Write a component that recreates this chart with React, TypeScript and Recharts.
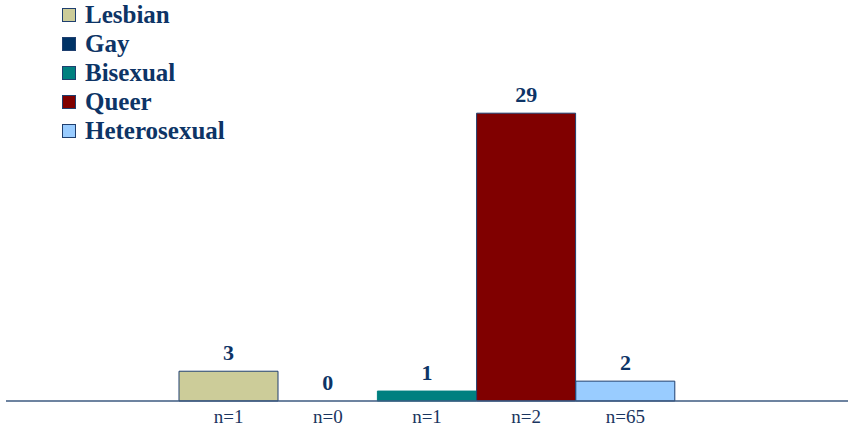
import React from "react";
import { ComposedChart, Bar, Scatter, XAxis, YAxis, Cell } from "recharts";

const groups = ["Lesbian", "Gay", "Bisexual", "Queer", "Heterosexual"];
const counts = [3, 0, 1, 29, 2];
const sampleLabels = ["n=1", "n=0", "n=1", "n=2", "n=65"];
const fills = ["#CCCC99", "#003366", "#008080", "#800000", "#99CCFF"];

const data = groups.map((g, i) => ({ group: g, n: sampleLabels[i], value: counts[i] }));

const NAVY = "#0d3466";
const SERIF = "Liberation Serif";

// value printed above each bar; drawn as a scatter so the zero bar gets one too
function ValueLabel(props: any) {
  const { cx, cy, payload } = props;
  return (
    <text x={cx} y={cy - 11} textAnchor="middle" fill={NAVY} fontFamily={SERIF} fontWeight="bold" fontSize={22}>
      {payload.value}
    </text>
  );
}

function SampleTick(props: any) {
  const { x, y, payload } = props;
  return (
    <text x={x} y={y + 14} textAnchor="middle" fill="#1a3560" fontFamily={SERIF} fontSize={19}>
      {payload.value}
    </text>
  );
}

function LegendBox() {
  return (
    <div style={{ position: "absolute", left: 62, top: 0, fontFamily: SERIF }}>
      {groups.map((g, i) => (
        <div key={g} style={{ display: "flex", alignItems: "center", height: 29.2 }}>
          <span
            style={{
              display: "inline-block",
              width: 12,
              height: 12,
              background: fills[i],
              border: "1px solid #1f3f6f",
              marginRight: 9,
            }}
          />
          <span style={{ color: NAVY, fontWeight: "bold", fontSize: 25, lineHeight: "26px" }}>{g}</span>
        </div>
      ))}
    </div>
  );
}

export default function App() {
  return (
    <div style={{ position: "absolute", left: 0, top: 0, width: 850, height: 430, background: "#fff" }}>
      <ComposedChart
        width={850}
        height={430}
        data={data}
        margin={{ top: 4, right: 2, bottom: 0, left: 6 }}
        barCategoryGap={0}
      >
        <XAxis
          dataKey="n"
          height={29}
          padding={{ left: 173, right: 173 }}
          tickLine={false}
          axisLine={{ stroke: "#3d5a80", strokeWidth: 1.5 }}
          tick={<SampleTick />}
          interval={0}
        />
        <YAxis hide domain={[0, 40]} />
        <Bar dataKey="value" isAnimationActive={false} stroke="#1f3f6f" strokeWidth={1}>
          {data.map((d, i) => (
            <Cell key={d.group} fill={fills[i]} stroke={i === 2 ? fills[i] : "#1f3f6f"} />
          ))}
        </Bar>
        <Scatter dataKey="value" isAnimationActive={false} shape={<ValueLabel />} />
      </ComposedChart>
      <LegendBox />
    </div>
  );
}
